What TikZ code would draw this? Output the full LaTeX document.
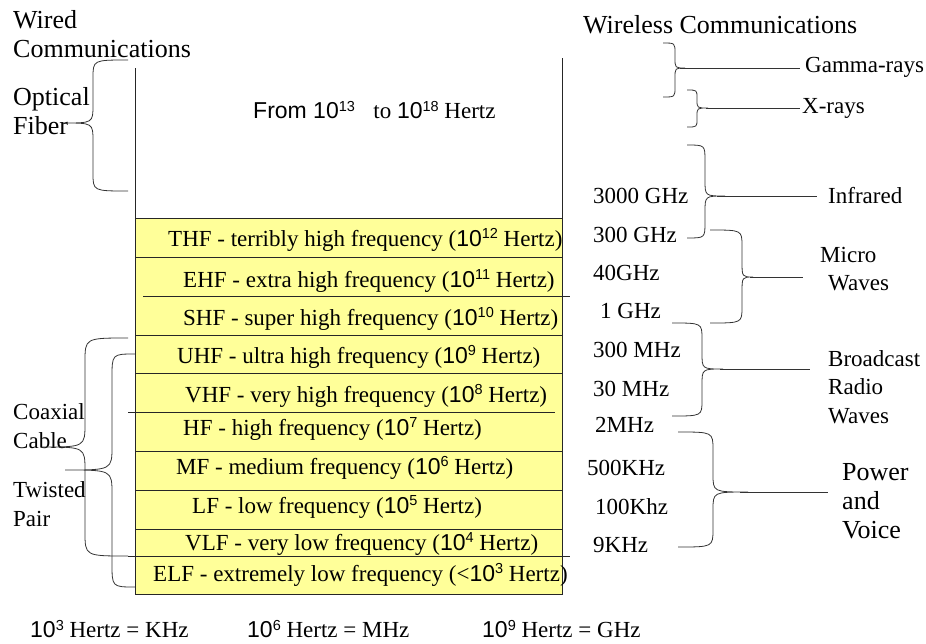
\documentclass[tikz,border=0pt]{standalone}
\usepackage{fontspec}
\setmainfont{Liberation Serif}
\newfontfamily\arialfam{Liberation Sans}
\usetikzlibrary{calc}
\definecolor{bandyellow}{HTML}{FFFF99}
% power of ten, set in the sans face with a small raised exponent
\newcommand\tenexp[1]{{\arialfam 10\raisebox{0.34em}{\fontsize{14.5}{15}\selectfont #1}}}
% curly brace: end x, top y, bottom y, spine x, tip x, tip y, curl size
\newcommand\curly[7]{%
  \draw[brace] (#1,#2) .. controls (#4,#2) .. (#4,#2+#7) -- (#4,#6-#7)
    .. controls (#4,#6) .. (#5,#6) .. controls (#4,#6) .. (#4,#6+#7)
    -- (#4,#3-#7) .. controls (#4,#3) .. (#1,#3);}
\begin{document}
\begin{tikzpicture}[x=1pt,y=-1pt,
  lbl/.style={anchor=west,inner sep=0pt,align=left,
    font=\fontsize{23}{28.5}\selectfont},
  big/.style={lbl,font=\fontsize{26}{29}\selectfont},
  band/.style={anchor=west,inner sep=0pt,font=\fontsize{23}{27}\selectfont},
  rule/.style={line width=0.9pt,black!85},
  brace/.style={line width=0.8pt,black!80},
  lead/.style={line width=0.8pt,black!80}]
\useasboundingbox (0,0) rectangle (926,643);

% frequency bands
\fill[bandyellow] (135,218) rectangle (562,594);
\draw[rule] (135,68) -- (135,594) -- (562,594) -- (562,58);
\foreach \yy in {218,257,335,373,451,490,529}
  \draw[rule] (135,\yy) -- (562,\yy);
\draw[rule] (143,296) -- (570,296);
\draw[rule] (128,412) -- (555,412);
\draw[rule] (128,556) -- (570,556);

\node[band] (thf) at (168,240) {THF - terribly high frequency (\tenexp{12} Hertz)};
\node[band] (ehf) at (183,281) {EHF - extra high frequency (\tenexp{11} Hertz)};
\node[band] (shf) at (183,319) {SHF - super high frequency (\tenexp{10} Hertz)};
\node[band] (uhf) at (177,357) {UHF - ultra high frequency (\tenexp{9} Hertz)};
\node[band] (vhf) at (185,396) {VHF - very high frequency (\tenexp{8} Hertz)};
\node[band] (hf)  at (183,429) {HF - high frequency (\tenexp{7} Hertz)};
\node[band] (mf)  at (176,468) {MF - medium frequency (\tenexp{6} Hertz)};
\node[band] (lf)  at (192,507) {LF - low frequency (\tenexp{5} Hertz)};
\node[band] (vlf) at (185,544) {VLF - very low frequency (\tenexp{4} Hertz)};
\node[band] (elf) at (153,575) {ELF - extremely low frequency (<\tenexp{3} Hertz)};

\node[lbl] (range) at (253,110) {{\arialfam From }\tenexp{13}\hspace{0.55em} to \tenexp{18} Hertz};

% wired side
\node[big] (wired) at (13,34) {Wired\\Communications};
\node[big] (optical) at (13,111) {Optical\\Fiber};
\node[lbl] (coax) at (13,426) {Coaxial\\Cable};
\node[lbl] (twisted) at (13,504) {Twisted\\Pair};
\curly{128}{60}{191}{93}{63}{123}{18}
\curly{128}{338}{556}{85}{42}{447}{24}
\curly{135}{354}{587}{112}{65}{470}{24}

% wireless side
\node[big] (wireless) at (583,25) {Wireless Communications};
\node[lbl] (f3000) at (593,196) {3000 GHz};
\node[lbl] (f300g) at (593,235) {300 GHz};
\node[lbl] (f40g)  at (593,273) {40GHz};
\node[lbl] (f1g)   at (600,311) {1 GHz};
\node[lbl] (f300m) at (593,350) {300 MHz};
\node[lbl] (f30m)  at (593,389) {30 MHz};
\node[lbl] (f2m)   at (595,425) {2MHz};
\node[lbl] (f500k) at (587,468) {500KHz};
\node[lbl] (f100k) at (595,507) {100Khz};
\node[lbl] (f9k)   at (593,545) {9KHz};

\node[lbl] (gamma) at (805,67) {Gamma-rays};
\node[lbl] (xrays) at (802,108) {X-rays};
\node[lbl] (infrared) at (828,196) {Infrared};
\node[lbl] (micro) at (820,269) {Micro\\\hspace*{8pt}Waves};
\node[lbl] (broadcast) at (828,387) {Broadcast\\Radio\\Waves};
\node[big] (power) at (842,501) {Power\\and\\Voice};

\curly{663}{43}{97}{675}{685}{68}{10}
\curly{687}{90}{127}{697}{708}{108}{8}
\curly{687}{145}{238}{705}{725}{196}{16}
\curly{710}{230}{323}{742}{753}{277}{16}
\curly{672}{323}{416}{702}{723}{369}{16}
\curly{678}{432}{547}{713}{748}{492}{18}

\coordinate (gtip) at (680,68);
\coordinate (xtip) at (706,108);
\coordinate (itip) at (717,196);
\coordinate (mtip) at (750,277);
\coordinate (btip) at (720,369);
\coordinate (ptip) at (740,492);
\draw[lead] (gtip) -- ($(gtip -| gamma.west)+(-5,0)$);
\draw[lead] (xtip) -- ($(xtip -| xrays.west)+(-2,0)$);
\draw[lead] (itip) -- ($(itip -| infrared.west)+(-11,0)$);
\draw[lead] (mtip) -- ($(mtip -| micro.west)+(-17,0)$);
\draw[lead] (btip) -- ($(btip -| broadcast.west)+(-18,0)$);
\draw[lead] (ptip) -- ($(ptip -| power.west)+(-14,0)$);

% unit legend
\node[lbl] (kilo) at (30,629) {\tenexp{3} Hertz = KHz};
\node[lbl] (mega) at (247,629) {\tenexp{6} Hertz = MHz};
\node[lbl] (giga) at (482,629) {\tenexp{9} Hertz = GHz};
\end{tikzpicture}
\end{document}
